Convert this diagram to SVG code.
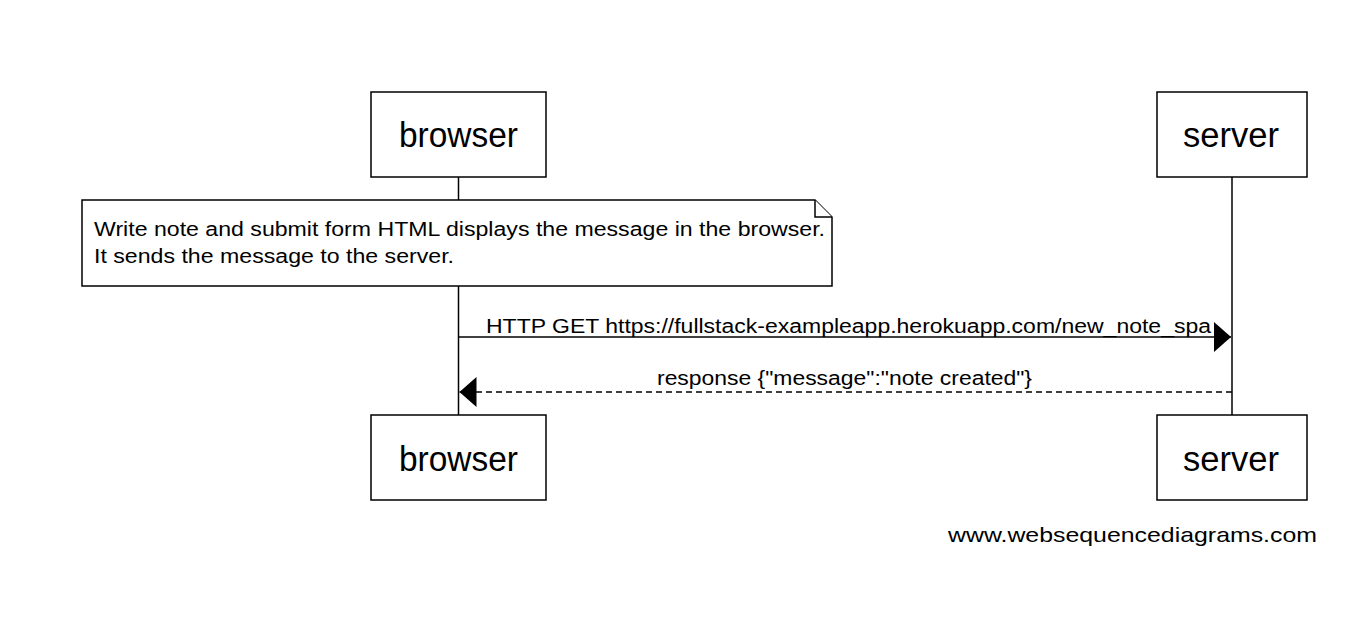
<svg xmlns="http://www.w3.org/2000/svg" width="1372" height="624" viewBox="0 0 1372 624">
<style>
.box{fill:#fff;stroke:#000;stroke-width:1.5}
.life{stroke:#000;stroke-width:1.5;fill:none}
.msg{stroke:#000;stroke-width:1.5;fill:none}
.dash{stroke-dasharray:6 4}
.pt{font-family:"Liberation Sans",Arial,sans-serif;font-size:35px;fill:#000;text-anchor:middle}
.t{font-family:"Liberation Sans",Arial,sans-serif;font-size:20px;fill:#000}
.wm{font-family:"Liberation Sans",Arial,sans-serif;font-size:21px;fill:#000}
</style>
<defs>
<marker id="ah" viewBox="0 0 17 30" refX="17" refY="15" markerWidth="17" markerHeight="30" markerUnits="userSpaceOnUse" orient="auto">
<path d="M0,0 L17,15 L0,30 Z" fill="#000"/>
</marker>
</defs>
<rect width="1372" height="624" fill="#fff"/>
<g id="lifelines">
<line class="life" x1="458.5" y1="177" x2="458.5" y2="415"/>
<line class="life" x1="1232" y1="177" x2="1232" y2="415"/>
</g>
<g id="connectors">
<line class="msg" x1="458.5" y1="337" x2="1231" y2="337" marker-end="url(#ah)"/>
<text class="t" x="486" y="333" textLength="725" lengthAdjust="spacingAndGlyphs">HTTP GET https://fullstack-exampleapp.herokuapp.com/new_note_spa</text>
<line class="msg dash" x1="1232" y1="392" x2="459.5" y2="392" marker-end="url(#ah)"/>
<text class="t" x="657" y="385" textLength="375" lengthAdjust="spacingAndGlyphs">response {"message":"note created"}</text>
</g>
<g id="note">
<path class="box" d="M82,200 L815,200 L832,217 L832,286 L82,286 Z"/>
<path class="box" d="M815,200 L815,217 L832,217" fill="none"/>
<text class="t" x="94" y="236" textLength="731" lengthAdjust="spacingAndGlyphs">Write note and submit form HTML displays the message in the browser.</text>
<text class="t" x="94" y="263" textLength="360" lengthAdjust="spacingAndGlyphs">It sends the message to the server.</text>
</g>
<g id="browser-top">
<rect class="box" x="371" y="92" width="175" height="85"/>
<text class="pt" x="458.5" y="147" textLength="119" lengthAdjust="spacingAndGlyphs">browser</text>
</g>
<g id="server-top">
<rect class="box" x="1157" y="92" width="150" height="85"/>
<text class="pt" x="1231" y="147" textLength="96" lengthAdjust="spacingAndGlyphs">server</text>
</g>
<g id="browser-bottom">
<rect class="box" x="371" y="415" width="175" height="85"/>
<text class="pt" x="458.5" y="471" textLength="119" lengthAdjust="spacingAndGlyphs">browser</text>
</g>
<g id="server-bottom">
<rect class="box" x="1157" y="415" width="150" height="85"/>
<text class="pt" x="1231" y="471" textLength="96" lengthAdjust="spacingAndGlyphs">server</text>
</g>
<text class="wm" x="948" y="542" textLength="369" lengthAdjust="spacingAndGlyphs">www.websequencediagrams.com</text>
</svg>
